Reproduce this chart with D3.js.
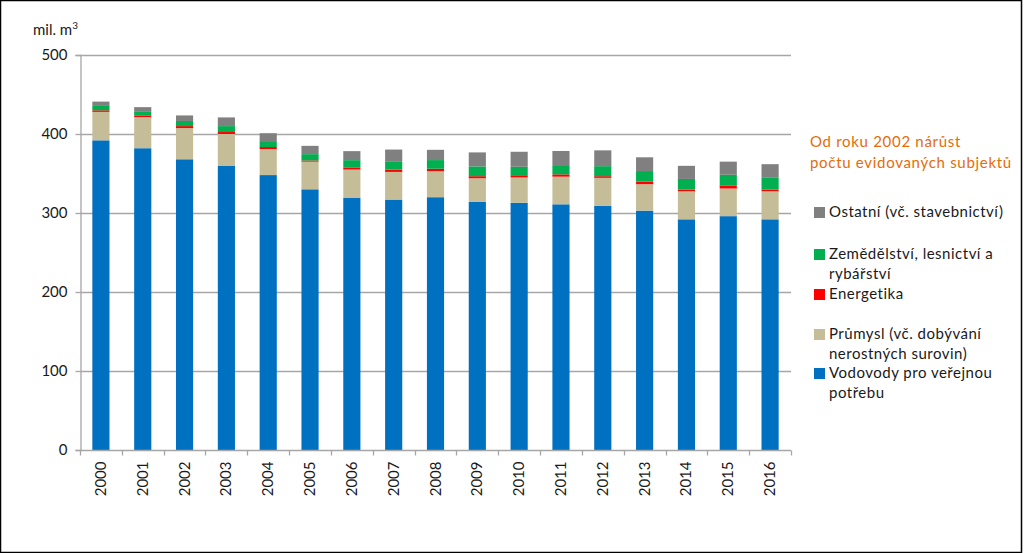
<!DOCTYPE html>
<html>
<head>
<meta charset="utf-8">
<script src="https://d3js.org/d3.v7.min.js"></script>
<style>
  body { margin: 0; background: #fff; }
  text { font-family: Lato, "Open Sans", sans-serif; fill: #1a1a1a; }
</style>
</head>
<body>
<div id="chart"></div>
<script>
// ---- data (mil. m3) ----
var years = ["2000","2001","2002","2003","2004","2005","2006","2007","2008","2009","2010","2011","2012","2013","2014","2015","2016"];
var vodovody  = [392, 382, 368, 360, 348, 330, 319, 317, 320, 314, 313, 311, 309, 303, 292, 296, 292];
var prumysl   = [36, 39.5, 39.5, 40, 33, 35, 36, 35, 33, 30, 32, 35, 35.5, 33.5, 35.5, 35, 35.5];
var energetika= [2, 1.5, 2.5, 2.5, 2.5, 1.5, 2.2, 3, 3, 2.6, 2.8, 2.9, 2.1, 3.4, 2, 3.4, 2];
var zemedel   = [5.5, 5, 6.5, 7.5, 7.5, 8, 9.7, 9.7, 11, 12.4, 10.7, 10.6, 12.7, 13.2, 13.6, 14, 15];
var ostatni   = [5.5, 6, 7, 11, 10, 10.5, 11.4, 15.6, 13, 17.7, 19, 19, 20, 17.4, 16.6, 16.6, 17.3];
var yTicks = [0, 100, 200, 300, 400, 500];

var seriesKeys = ["vodovody", "prumysl", "energetika", "zemedel", "ostatni"];
var seriesColors = { vodovody: "#0070C0", prumysl: "#C4BD97", energetika: "#FF0000", zemedel: "#00B050", ostatni: "#808080" };

var table = years.map(function (y, i) {
  return { year: y, vodovody: vodovody[i], prumysl: prumysl[i], energetika: energetika[i], zemedel: zemedel[i], ostatni: ostatni[i] };
});

var W = 1024, H = 553;
var margin = { top: 55, left: 80 };
var plotW = 711, plotH = 395;

var svg = d3.select("#chart").append("svg").attr("width", W).attr("height", H);

// outer frame
svg.append("rect").attr("x", 0.5).attr("y", 0.5).attr("width", 1021).attr("height", 552)
  .attr("fill", "none").attr("stroke", "#000").attr("stroke-width", 1.5);

var g = svg.append("g").attr("transform", "translate(" + margin.left + "," + margin.top + ")");

var x = d3.scaleBand().domain(years).range([0, plotW]).paddingInner(0.59).paddingOuter(0.295);
var y = d3.scaleLinear().domain([0, 500]).range([plotH, 0]);

// gridlines
g.append("g").selectAll("line").data(yTicks.slice(1)).join("line")
  .attr("x1", 0).attr("x2", plotW)
  .attr("y1", function (d) { return Math.round(y(d)) + 0.5; })
  .attr("y2", function (d) { return Math.round(y(d)) + 0.5; })
  .attr("stroke", "#A6A6A6").attr("stroke-width", 1.3);

// stacked bars
var stack = d3.stack().keys(seriesKeys)(table);
g.append("g").selectAll("g").data(stack).join("g")
  .attr("fill", function (d) { return seriesColors[d.key]; })
  .selectAll("rect").data(function (d) { return d; }).join("rect")
  .attr("x", function (d) { return x(d.data.year); })
  .attr("width", x.bandwidth())
  .attr("y", function (d) { return y(d[1]); })
  .attr("height", function (d) { return y(d[0]) - y(d[1]); });

// y axis
var yAxis = g.append("g").attr("transform", "translate(0.5,0)")
  .call(d3.axisLeft(y).tickValues(yTicks).tickSize(5).tickPadding(8));
yAxis.select(".domain").attr("stroke", "#A6A6A6").attr("stroke-width", 1.3);
yAxis.selectAll(".tick line").attr("stroke", "#A6A6A6").attr("stroke-width", 1.3);
yAxis.selectAll("text").style("font-size", "15px").attr("fill", "#1a1a1a");

// x axis: ticks between categories
var xAxisG = g.append("g").attr("transform", "translate(0," + (plotH + 0.5) + ")");
xAxisG.append("line").attr("x1", 0).attr("x2", plotW).attr("stroke", "#A6A6A6").attr("stroke-width", 1.3);
var step = x.step();
xAxisG.selectAll("line.tk").data(d3.range(years.length + 1)).join("line")
  .attr("class", "tk")
  .attr("x1", function (i) { return Math.round(i * step) + 0.5; })
  .attr("x2", function (i) { return Math.round(i * step) + 0.5; })
  .attr("y1", 0).attr("y2", 5)
  .attr("stroke", "#A6A6A6").attr("stroke-width", 1.3);
xAxisG.selectAll("text").data(years).join("text")
  .attr("transform", function (d) { return "translate(" + (x(d) + x.bandwidth() / 2 + 5) + ",11) rotate(-90)"; })
  .attr("text-anchor", "end")
  .style("font-size", "15px")
  .text(function (d) { return d; });

// unit label
svg.append("text").attr("x", 33).attr("y", 35).style("font-size", "15px")
  .html("mil. m<tspan dy='-6' style='font-size:10px'>3</tspan>");

// annotation
var note = svg.append("text").attr("x", 810).attr("y", 147).style("font-size", "15px")
  .style("letter-spacing", "0.7px").style("fill", "#E46C0A");
note.append("tspan").attr("x", 810).text("Od roku 2002 nárůst");
note.append("tspan").attr("x", 810).attr("dy", 21).text("počtu evidovaných subjektů");

// legend
var legendItems = [
  { key: "ostatni", lines: ["Ostatní (vč. stavebnictví)"], y: 212 },
  { key: "zemedel", lines: ["Zemědělství, lesnictví a", "rybářství"], y: 254 },
  { key: "energetika", lines: ["Energetika"], y: 294 },
  { key: "prumysl", lines: ["Průmysl (vč. dobývání", "nerostných surovin)"], y: 334 },
  { key: "vodovody", lines: ["Vodovody pro veřejnou", "potřebu"], y: 373 }
];
var lg = svg.append("g").selectAll("g").data(legendItems).join("g")
  .attr("transform", function (d) { return "translate(814," + d.y + ")"; });
lg.append("rect").attr("x", 0).attr("y", -5).attr("width", 11).attr("height", 11)
  .attr("fill", function (d) { return seriesColors[d.key]; });
lg.append("text").attr("x", 15).attr("y", 5).style("font-size", "15px").style("letter-spacing", "0.5px")
  .selectAll("tspan").data(function (d) { return d.lines; }).join("tspan")
  .attr("x", 15).attr("dy", function (d, i) { return i === 0 ? 0 : 20; })
  .text(function (d) { return d; });
</script>
</body>
</html>
